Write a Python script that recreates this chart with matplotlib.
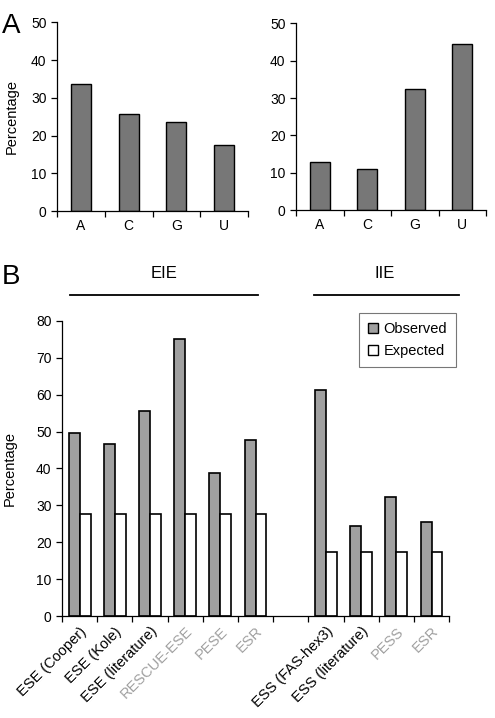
import matplotlib
matplotlib.use('Agg')
import matplotlib.pyplot as plt
import numpy as np
from matplotlib.patches import Patch

plt.rcParams['font.family'] = ['Liberation Sans', 'DejaVu Sans']

# panel A data
bases = ['A', 'C', 'G', 'U']
left_vals = [33.7, 25.6, 23.5, 17.4]
right_vals = [12.8, 11.0, 32.3, 44.4]

# panel B data
b_labels = ['ESE (Cooper)', 'ESE (Kole)', 'ESE (literature)', 'RESCUE-ESE', 'PESE', 'ESR',
            '', 'ESS (FAS-hex3)', 'ESS (literature)', 'PESS', 'ESR']
b_grey = [False, False, False, True, True, True, False, False, False, True, True]
observed = [49.7, 46.7, 55.5, 75.0, 38.7, 47.8, np.nan, 61.3, 24.3, 32.3, 25.4]
expected = [27.6, 27.6, 27.6, 27.6, 27.6, 27.6, np.nan, 17.4, 17.4, 17.4, 17.4]

fig = plt.figure(figsize=(4.95, 7.18), dpi=100)


def style_axes(ax, n, ymax, step):
    ax.spines['top'].set_visible(False)
    ax.spines['right'].set_visible(False)
    for s in ['left', 'bottom']:
        ax.spines[s].set_linewidth(0.9)
    ax.set_xlim(-0.5, n - 0.5)
    ax.set_ylim(0, ymax)
    ax.set_yticks(np.arange(0, ymax + 1, step))
    ax.set_xticks(np.arange(n))
    ax.set_xticks(np.arange(n + 1) - 0.5, minor=True)
    ax.tick_params(axis='x', which='major', length=0, pad=6)
    ax.tick_params(axis='x', which='minor', length=4, width=0.9, direction='out')
    ax.tick_params(axis='y', length=4, width=0.9, labelsize=10)


# panel A, left
ax1 = fig.add_axes([0.1152, 0.706, 0.386, 0.263])
x = np.arange(len(bases))
ax1.bar(x, left_vals, width=0.42, color='#777777', edgecolor='black', linewidth=1.0)
style_axes(ax1, 4, 50, 10)
ax1.set_xticklabels(bases, fontsize=10)
ax1.set_ylabel('Percentage', fontsize=10.5, labelpad=9)

# panel A, right
ax2 = fig.add_axes([0.598, 0.7075, 0.384, 0.260])
ax2.bar(x, right_vals, width=0.42, color='#777777', edgecolor='black', linewidth=1.0)
style_axes(ax2, 4, 50, 10)
ax2.set_xticklabels(bases, fontsize=10)

# panel B
ax3 = fig.add_axes([0.1253, 0.142, 0.782, 0.411])
xb = np.arange(len(b_labels))
w = 0.31
ax3.bar(xb - w / 2, observed, width=w, color='#a0a0a0', edgecolor='black', linewidth=1.2, label='Observed')
ax3.bar(xb + w / 2, expected, width=w, color='white', edgecolor='black', linewidth=1.2, label='Expected')
style_axes(ax3, len(b_labels), 80, 10)
ax3.set_xticklabels(b_labels, rotation=45, ha='right', rotation_mode='anchor', fontsize=10.5)
ax3.tick_params(axis='x', which='major', pad=6)
for lab, g in zip(ax3.get_xticklabels(), b_grey):
    if g:
        lab.set_color('#a0a0a0')
ax3.set_ylabel('Percentage', fontsize=10.5, labelpad=14)

handles = [Patch(facecolor='#a0a0a0', edgecolor='black', label='Observed'),
           Patch(facecolor='white', edgecolor='black', label='Expected')]
leg = ax3.legend(handles=handles, loc='upper right', bbox_to_anchor=(1.018, 1.027),
                 borderaxespad=0, fontsize=10.5, frameon=True, fancybox=False,
                 edgecolor='#555555', handlelength=0.7, handleheight=0.7,
                 handletextpad=0.4, borderpad=0.6, labelspacing=0.6)
leg.get_frame().set_linewidth(0.8)

# group headers
fig.add_artist(plt.Line2D([70 / 495, 258 / 495], [1 - 295 / 718] * 2, color='black', lw=1.3))
fig.add_artist(plt.Line2D([314 / 495, 459 / 495], [1 - 295 / 718] * 2, color='black', lw=1.3))
fig.text(164 / 495, 1 - 273 / 718, 'EIE', ha='center', va='center', fontsize=12)
fig.text(385 / 495, 1 - 274 / 718, 'IIE', ha='center', va='center', fontsize=12)

# panel letters
fig.text(11 / 495, 1 - 26 / 718, 'A', ha='center', va='center', fontsize=20)
fig.text(11 / 495, 1 - 277 / 718, 'B', ha='center', va='center', fontsize=20)

fig.savefig('out.png', dpi=100)
